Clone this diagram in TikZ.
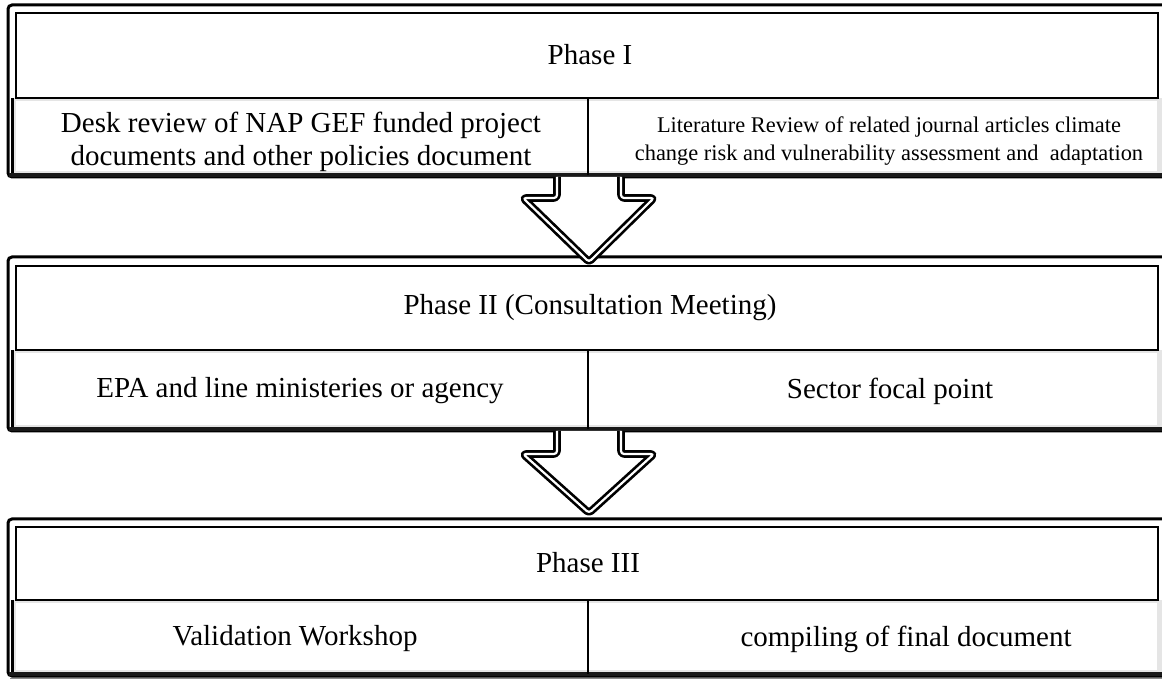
\documentclass[tikz,border=0pt]{standalone}
\usepackage{fontspec}
\setmainfont{Liberation Serif}
\begin{document}
\begin{tikzpicture}[x=0.5pt,y=-0.5pt,
  outerframe/.style={draw=black,line width=1.5pt,rounded corners=2pt},
  innerbox/.style={draw=black,line width=1.3pt},
  rowedge/.style={draw=black,line width=1.6pt},
  rowbottom/.style={draw=black!90,line width=2pt},
  divider/.style={draw=black,line width=1.1pt},
  bevel/.style={fill=black!10},
  phasetext/.style={font=\fontsize{14.5}{16.5}\selectfont,align=center,inner sep=0pt},
  celltext/.style={font=\fontsize{14.5}{16.5}\selectfont,align=center,inner sep=0pt},
  smalltext/.style={font=\fontsize{11.2}{14}\selectfont,align=center,inner sep=0pt},
  blockarrow/.style={draw=black,line width=1.35pt,double=white,double distance=1.1pt,line join=round,rounded corners=1.5pt}
]
\useasboundingbox (0,0) rectangle (1162,683);
\clip (0,0) rectangle (1162,683);

% generic block: #1 outer top, #2 inner top, #3 row top, #4 row bottom
\newcommand{\phaseblk}[4]{%
  \fill[bevel] (11,#3) rectangle (1162,#4);
  \fill[white] (16,#3+3) rectangle (1157,#4-4);
  \draw[outerframe] (1170,#1) -- (8,#1) -- (8,#4+2) -- (1170,#4+2);
  \draw[rowedge] (12.5,#3) -- (12.5,#4+1);
  \draw[rowbottom] (9,#4) -- (1162,#4);
  \draw[innerbox] (16,#2) rectangle (1158,#3);
  \draw[divider] (588,#3) -- (588,#4);
}

\phaseblk{5}{13}{98}{175}
\phaseblk{257}{266}{350}{429}
\phaseblk{519}{527}{600}{674}
\draw[black!45,line width=0.6pt] (10,678.5) -- (1162,678.5);

% texts
\node[phasetext] (p1) at (590,55) {Phase I};
\node[celltext] (p1a) at (301,142) {Desk review of NAP GEF funded project\\documents and other policies document};
\node[smalltext] (p1b) at (889,141) {Literature Review of related journal articles climate\\change risk and vulnerability assessment and\ \ adaptation};

\node[phasetext] (p2) at (590,308) {Phase II (Consultation Meeting)};
\node[celltext] (p2a) at (300,391) {EPA and line ministeries or agency};
\node[celltext] (p2b) at (890,391) {Sector focal point};

\node[phasetext] (p3) at (588,563) {Phase III};
\node[celltext] (p3a) at (295,639) {Validation Workshop};
\node[celltext] (p3b) at (906,639) {compiling of final document};

% block arrows
\coordinate (a1l) at (557,177);
\coordinate (a1r) at (621,177);
\coordinate (a1t) at (589,262);
\fill[white] (a1l) -- (557,198) -- (523,198) -- (a1t) -- (654,198) -- (621,198) -- (a1r) -- cycle;
\draw[blockarrow] (a1l) -- (557,198) -- (523,198) -- (a1t) -- (654,198) -- (621,198) -- (a1r);

\coordinate (a2l) at (557,431);
\coordinate (a2r) at (621,431);
\coordinate (a2t) at (589,513);
\fill[white] (a2l) -- (557,454) -- (523,454) -- (a2t) -- (654,454) -- (621,454) -- (a2r) -- cycle;
\draw[blockarrow] (a2l) -- (557,454) -- (523,454) -- (a2t) -- (654,454) -- (621,454) -- (a2r);
\end{tikzpicture}
\end{document}
